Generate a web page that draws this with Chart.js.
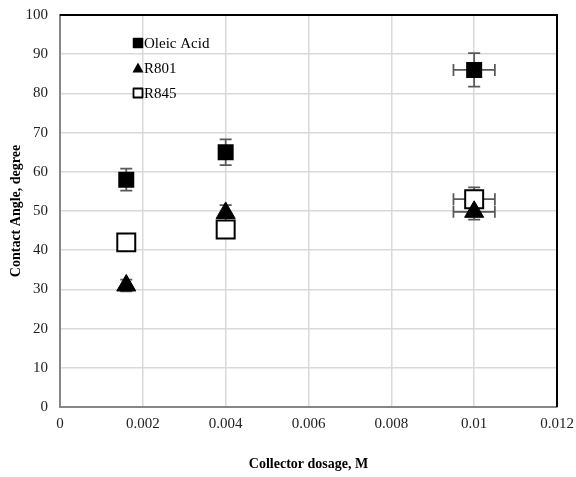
<!DOCTYPE html>
<html>
<head>
<meta charset="utf-8">
<script src="https://cdn.jsdelivr.net/npm/chart.js@4"></script>
<style>
  html, body { margin: 0; padding: 0; background: #fff; }
  #wrap { width: 576px; height: 477px; }
</style>
</head>
<body>
<div id="wrap"><canvas id="chart" width="576" height="477"></canvas></div>
<script>
// Data
const dosage = [0.0016, 0.004, 0.01];
const oleicAcid = [58, 65, 86];
const r801 = [31, 49.5, 49.8];
const r845 = [42, 45.3, 53];
const oleicErrY = [2.8, 3.3, 4.3];
const oleicErrX = [0, 0, 0.0005];
const r801ErrY = [1.5, 2, 2];
const r801ErrX = [0, 0, 0.0005];
const r845ErrY = [0, 0, 3];
const r845ErrX = [0, 0, 0.0005];
const seriesNames = ['Oleic Acid', 'R801', 'R845'];

const toPoints = (ys, ex, ey) => dosage.map((x, i) => ({ x: x, y: ys[i], ex: ex[i], ey: ey[i] }));

// Error bars go under the markers
const errorBars = {
    id: 'errorBars',
    beforeDatasetsDraw(chart) {
        const ctx = chart.ctx;
        const xs = chart.scales.x, ys = chart.scales.y;
        const cap = 6;
        ctx.save();
        ctx.strokeStyle = '#595959';
        ctx.lineWidth = 1.75;
        chart.data.datasets.forEach(ds => {
            ds.data.forEach(p => {
                const px = xs.getPixelForValue(p.x);
                const py = ys.getPixelForValue(p.y);
                ctx.beginPath();
                if (p.ey) {
                    const t = ys.getPixelForValue(p.y + p.ey);
                    const b = ys.getPixelForValue(p.y - p.ey);
                    ctx.moveTo(px, t); ctx.lineTo(px, b);
                    ctx.moveTo(px - cap, t); ctx.lineTo(px + cap, t);
                    ctx.moveTo(px - cap, b); ctx.lineTo(px + cap, b);
                }
                if (p.ex) {
                    const l = xs.getPixelForValue(p.x - p.ex);
                    const r = xs.getPixelForValue(p.x + p.ex);
                    ctx.moveTo(l, py); ctx.lineTo(r, py);
                    ctx.moveTo(l, py - cap); ctx.lineTo(l, py + cap);
                    ctx.moveTo(r, py - cap); ctx.lineTo(r, py + cap);
                }
                ctx.stroke();
            });
        });
        ctx.restore();
    }
};

// Frame (black top/right) and the legend inside the plot
const frameAndLegend = {
    id: 'frameAndLegend',
    afterDraw(chart) {
        const ctx = chart.ctx;
        const a = chart.chartArea;
        ctx.save();
        ctx.strokeStyle = '#000';
        ctx.lineWidth = 2;
        ctx.beginPath();
        ctx.moveTo(a.left, a.top);
        ctx.lineTo(a.right, a.top);
        ctx.lineTo(a.right, a.bottom);
        ctx.stroke();

        const lx = 138, rows = [43, 68, 93];
        ctx.font = '15px "Liberation Serif"';
        ctx.textBaseline = 'middle';
        ctx.fillStyle = '#000';
        // Oleic Acid: filled square
        ctx.lineJoin = 'round';
        ctx.lineWidth = 1.5;
        ctx.fillRect(lx - 4.5, rows[0] - 4.5, 9, 9);
        ctx.strokeRect(lx - 4.5, rows[0] - 4.5, 9, 9);
        // R801: triangle
        ctx.beginPath();
        ctx.moveTo(lx, rows[1] - 5.5);
        ctx.lineTo(lx + 5.5, rows[1] + 4.5);
        ctx.lineTo(lx - 5.5, rows[1] + 4.5);
        ctx.closePath();
        ctx.fill();
        // R845: open square
        ctx.lineWidth = 1.8;
        ctx.fillStyle = '#fff';
        ctx.fillRect(lx - 4.5, rows[2] - 4.5, 9, 9);
        ctx.strokeRect(lx - 4.5, rows[2] - 4.5, 9, 9);
        ctx.fillStyle = '#000';
        seriesNames.forEach((n, i) => ctx.fillText(n, lx + 6, rows[i] + 1));
        ctx.restore();
    }
};

const serif = '"Liberation Serif", "Times New Roman", serif';

new Chart(document.getElementById('chart'), {
    type: 'scatter',
    data: {
        datasets: [
            {
                label: seriesNames[0],
                data: toPoints(oleicAcid, oleicErrX, oleicErrY),
                pointStyle: 'rect',
                radius: 9.9,
                backgroundColor: '#000',
                borderColor: '#000',
                borderWidth: 2,
                borderJoinStyle: 'round'
            },
            {
                label: seriesNames[1],
                data: toPoints(r801, r801ErrX, r801ErrY),
                pointStyle: 'triangle',
                radius: 11,
                backgroundColor: '#000',
                borderColor: '#000',
                borderWidth: 1
            },
            {
                label: seriesNames[2],
                data: toPoints(r845, r845ErrX, r845ErrY),
                pointStyle: 'rect',
                radius: 12.7,
                backgroundColor: '#fff',
                borderColor: '#000',
                borderWidth: 2
            }
        ]
    },
    options: {
        responsive: false,
        animation: false,
        events: [],
        layout: { padding: { left: 0, right: 19, top: 15, bottom: 0 } },
        plugins: { legend: { display: false }, tooltip: { enabled: false } },
        scales: {
            x: {
                type: 'linear',
                min: 0,
                max: 0.012,
                ticks: {
                    stepSize: 0.002,
                    padding: 8,
                    color: '#222',
                    font: { family: serif, size: 15 },
                    callback: v => String(Math.round(v * 1000) / 1000)
                },
                grid: { color: '#d9d9d9', lineWidth: 1.5, drawTicks: false },
                border: { color: '#868686', width: 2 },
                title: {
                    display: true,
                    text: 'Collector dosage, M',
                    color: '#000',
                    font: { family: serif, size: 14, weight: 'bold' },
                    padding: { top: 0, bottom: 4 }
                },
                afterFit(s) { s.height = 70; s.paddingLeft = 0; s.paddingRight = 0; }
            },
            y: {
                min: 0,
                max: 100,
                ticks: {
                    stepSize: 10,
                    padding: 12,
                    color: '#222',
                    font: { family: serif, size: 15 }
                },
                grid: { color: '#d9d9d9', lineWidth: 1.5, drawTicks: false },
                border: { color: '#868686', width: 2 },
                title: {
                    display: true,
                    text: 'Contact Angle, degree',
                    color: '#000',
                    font: { family: serif, size: 14, weight: 'bold' },
                    padding: { top: 8, bottom: 0 }
                },
                afterFit(s) { s.width = 60; s.paddingTop = 0; s.paddingBottom = 0; }
            }
        }
    },
    plugins: [errorBars, frameAndLegend]
});
</script>
</body>
</html>
